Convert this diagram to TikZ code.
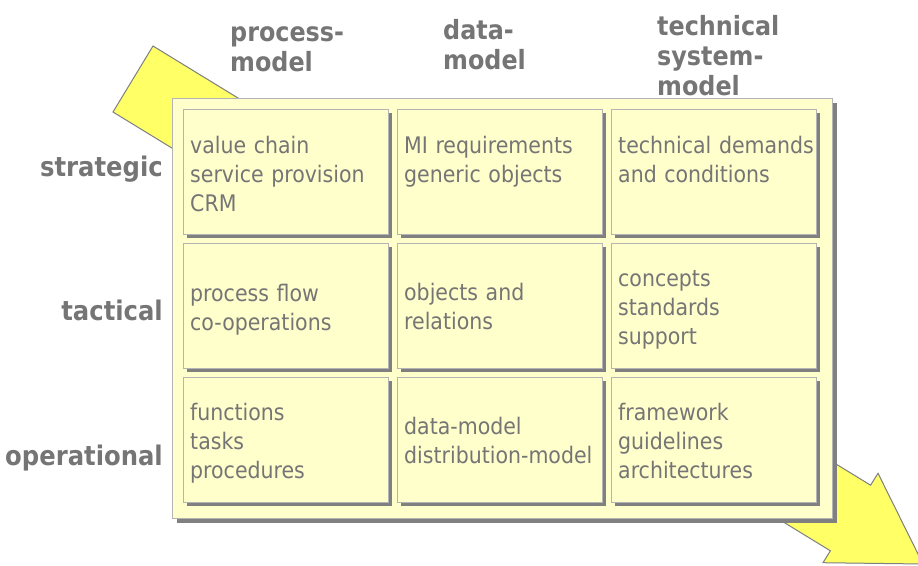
\documentclass[tikz,border=0pt]{standalone}
\usepackage{fontspec}
\setmainfont{DejaVu Sans Condensed}
\usetikzlibrary{shadows}
\definecolor{txtgray}{HTML}{757575}
\definecolor{bordergray}{HTML}{B4B4B4}
\definecolor{shadowgray}{HTML}{808080}
\definecolor{cellfill}{HTML}{FFFFCC}
\definecolor{arrowfill}{HTML}{FFFF66}
\tikzset{
  cellbox/.style={draw=bordergray, fill=cellfill, line width=1pt, anchor=north west,
    minimum width=205pt, minimum height=125pt, inner sep=0pt,
    drop shadow={shadow xshift=3.5pt, shadow yshift=-3.5pt, fill=shadowgray, opacity=1}},
  panelbox/.style={draw=bordergray, fill=cellfill, line width=1pt, anchor=north west,
    minimum width=660pt, minimum height=420pt, inner sep=0pt,
    drop shadow={shadow xshift=4pt, shadow yshift=-4pt, fill=shadowgray, opacity=1}},
  celltext/.style={anchor=base west, text width=215pt, align=left, inner sep=0pt,
    text=txtgray, font=\fontsize{22.8}{29}\selectfont},
  headtext/.style={anchor=base west, align=left, inner sep=0pt, text width=150pt,
    text=txtgray, font=\bfseries\fontsize{26.5}{30}\selectfont},
  rowlabel/.style={anchor=base east, inner sep=0pt,
    text=txtgray, font=\bfseries\fontsize{27}{30}\selectfont},
}
\begin{document}
\begin{tikzpicture}[x=1pt, y=-1pt]
\useasboundingbox (0,0) rectangle (918,565);
% big diagonal arrow
\coordinate (a1) at (153,46);
\coordinate (a2) at (870.6,485.2);
\coordinate (a3) at (878,473.3);
\coordinate (a4) at (923,564);
\coordinate (a5) at (823,562.7);
\coordinate (a6) at (830.4,550.8);
\coordinate (a7) at (113,112);
\fill[shadowgray, shift={(3.5,3.5)}] (a1) -- (a2) -- (a3) -- (a4) -- (a5) -- (a6) -- (a7) -- cycle;
\filldraw[fill=arrowfill, draw=shadowgray, line width=1pt, line join=miter]
  (a1) -- (a2) -- (a3) -- (a4) -- (a5) -- (a6) -- (a7) -- cycle;
% panel
\node[panelbox] (panel) at (172,98) {};
% cells
\node[cellbox] (c11) at (183,109) {};
\node[cellbox] (c12) at (397,109) {};
\node[cellbox] (c13) at (611,109) {};
\node[cellbox] (c21) at (183,243) {};
\node[cellbox] (c22) at (397,243) {};
\node[cellbox] (c23) at (611,243) {};
\node[cellbox] (c31) at (183,377) {};
\node[cellbox] (c32) at (397,377) {};
\node[cellbox] (c33) at (611,377) {};
% cell texts
\node[celltext] (t11) at (190,153) {value chain\\service provision\\CRM};
\node[celltext] (t12) at (404,153) {MI requirements\\generic objects};
\node[celltext] (t13) at (618,153) {technical demands\\and conditions};
\node[celltext] (t21) at (190,301) {process flow\\co-operations};
\node[celltext] (t22) at (404,300) {objects and\\relations};
\node[celltext] (t23) at (618,286) {concepts\\standards\\support};
\node[celltext] (t31) at (190,420) {functions\\tasks\\procedures};
\node[celltext] (t32) at (404,434) {data-model\\distribution-model};
\node[celltext] (t33) at (618,420) {framework\\guidelines\\architectures};
% headers
\node[headtext] (h1) at (230,41) {process-\\model};
\node[headtext] (h2) at (443,39) {data-\\model};
\node[headtext] (h3) at (657,35) {technical\\system-\\model};
% row labels
\node[rowlabel] (r1) at (163,176) {strategic};
\node[rowlabel] (r2) at (163,320) {tactical};
\node[rowlabel] (r3) at (163,465) {operational};
\end{tikzpicture}
\end{document}
